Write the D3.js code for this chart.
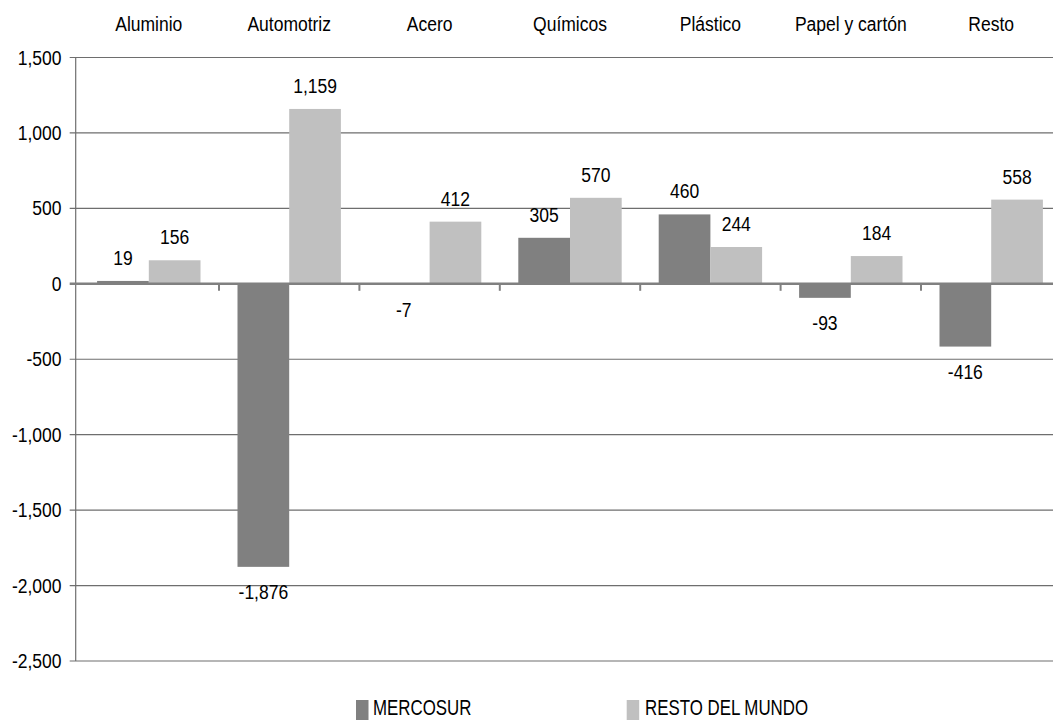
<!DOCTYPE html>
<html><head><meta charset="utf-8">
<script src="https://cdn.jsdelivr.net/npm/d3@7"></script>
<style>body{margin:0;background:#fff}svg{display:block}text{font-family:"Liberation Sans Narrow","Arial Narrow","Liberation Sans",Arial,sans-serif;fill:#000}</style>
</head><body>
<svg id="c" width="1053" height="720"></svg>
<script>
const categories = ["Aluminio","Automotriz","Acero","Químicos","Plástico","Papel y cartón","Resto"];
const seriesNames = ["MERCOSUR","RESTO DEL MUNDO"];
const mercosur = [19,-1876,-7,305,460,-93,-416];
const restoMundo = [156,1159,412,570,244,184,558];
const yTicks = [1500,1000,500,0,-500,-1000,-1500,-2000,-2500];
const colors = ["#808080","#c0c0c0"];

const svg = d3.select("#c");
const fmt = d3.formatLocale({decimal:".",thousands:",",grouping:[3],currency:["$",""],minus:"-"}).format(",");
const SX = 0.875;
function place(sel, fx, fy){
  return sel.attr("transform",(d,i)=>`translate(${fx(d,i)},${fy(d,i)}) scale(${SX},1)`);
}
const y = d3.scaleLinear().domain([-2500,1500]).range([661,57.5]);
const x0 = d3.scaleBand().domain(categories).range([78.6,1061.4]).paddingInner(0).paddingOuter(0);
const x1 = d3.scaleBand().domain(seriesNames).range([18.5, x0.bandwidth()-18.5]);
const axisX = 75.7, rightX = 1053;

// gridlines
svg.append("g").selectAll("line").data(yTicks.filter(d=>d!==0)).join("line")
  .attr("x1",axisX-6).attr("x2",rightX).attr("y1",d=>y(d)).attr("y2",d=>y(d))
  .attr("stroke","#6e6e6e").attr("stroke-width",1.2);

// y axis line
svg.append("line").attr("x1",axisX).attr("x2",axisX).attr("y1",y(1500)).attr("y2",y(-2500))
  .attr("stroke","#6e6e6e").attr("stroke-width",1.2);

// y labels
place(svg.append("g").selectAll("text").data(yTicks).join("text"), ()=>61.5, d=>y(d)+7)
  .attr("text-anchor","end").attr("font-size",20).text(d=>fmt(d));

// bars
const data = categories.map((c,i)=>({c, vals:[mercosur[i],restoMundo[i]]}));
const g = svg.append("g").selectAll("g").data(data).join("g")
  .attr("transform",d=>`translate(${x0(d.c)},0)`);
g.selectAll("rect").data(d=>d.vals.map((v,j)=>({v,s:seriesNames[j],j}))).join("rect")
  .attr("x",d=>x1(d.s)).attr("width",x1.bandwidth())
  .attr("y",d=>y(Math.max(0,d.v))).attr("height",d=>Math.abs(y(d.v)-y(0)))
  .attr("fill",d=>colors[d.j]);
place(g.selectAll("text").data(d=>d.vals.map((v,j)=>({v,s:seriesNames[j],j}))).join("text"),
  d=>x1(d.s)+x1.bandwidth()/2, d=>d.v>=0 ? y(d.v)-16 : y(d.v)+32)
  .attr("text-anchor","middle").attr("font-size",20).text(d=>fmt(d.v));

// zero line
svg.append("line").attr("x1",axisX-6).attr("x2",rightX).attr("y1",y(0)).attr("y2",y(0))
  .attr("stroke","#808080").attr("stroke-width",2.5);
// category boundary ticks
svg.append("g").selectAll("line").data(categories.slice(1)).join("line")
  .attr("x1",d=>x0(d)).attr("x2",d=>x0(d)).attr("y1",y(0)).attr("y2",y(0)+7)
  .attr("stroke","#808080").attr("stroke-width",2);

// category labels
place(svg.append("g").selectAll("text").data(categories).join("text"),
  d=>x0(d)+x0.bandwidth()/2, ()=>31)
  .attr("text-anchor","middle").attr("font-size",20).text(d=>d);

// legend
const legX = [356,626.7], legTX=[373,645];
seriesNames.forEach((s,i)=>{
  svg.append("rect").attr("x",legX[i]).attr("y",700).attr("width",12.5).attr("height",20).attr("fill",colors[i]);
  svg.append("text").attr("transform",`translate(${legTX[i]},715) scale(0.75,1)`).attr("font-size",22.5).text(s);
});
</script>
</body></html>
